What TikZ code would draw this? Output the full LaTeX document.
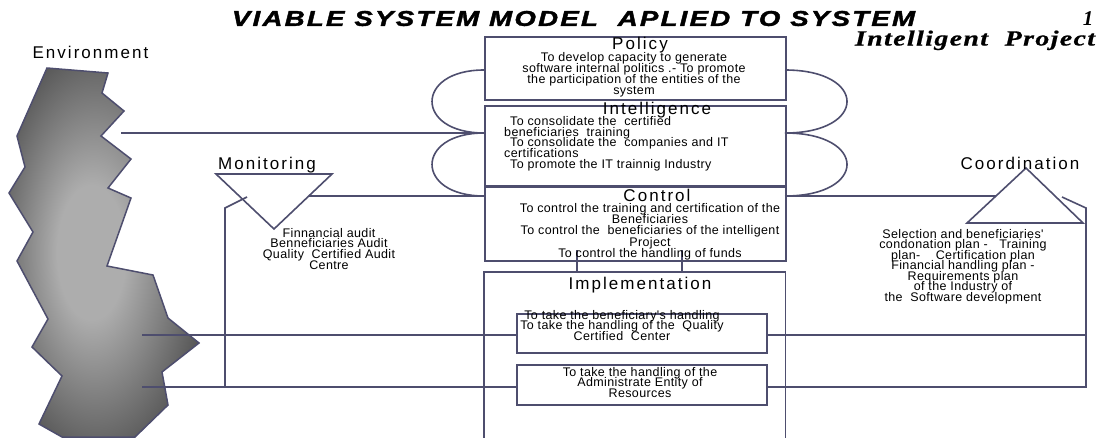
\documentclass[tikz,border=0pt]{standalone}
\usepackage{fontspec}
\setmainfont{Liberation Sans}
\newfontfamily\labelfont[LetterSpace=12]{Liberation Sans}
\newfontfamily\bodyfont[LetterSpace=3]{Liberation Sans}
\newfontfamily\headfont[LetterSpace=8, BoldItalicFeatures={FakeBold=1.6}]{Liberation Sans}
\newfontfamily\projfont[LetterSpace=5, BoldItalicFeatures={FakeBold=0.6}]{Liberation Serif}
\newfontfamily\serifbi{Liberation Serif}
\usetikzlibrary{calc}

\definecolor{vsmline}{RGB}{78,78,110}
\definecolor{envlight}{gray}{0.68}
\definecolor{envdark}{gray}{0.32}
\pgfdeclareradialshading{envshade}{\pgfpoint{-4bp}{0bp}}{%
  color(0bp)=(envlight); color(9bp)=(envlight); color(30bp)=(envdark); color(50bp)=(envdark)}

% tight text blocks: lines keep their baseline distance even when glyphs touch
\newcommand{\tightlines}{\lineskiplimit=-20pt\relax\lineskip=0pt\relax}

\tikzset{
  conn/.style={draw=vsmline, line width=1.6pt},
  frame/.style={draw=vsmline, line width=1.6pt, rectangle, inner sep=0pt, anchor=north west},
  bodytext/.style={inner sep=0pt, anchor=north, align=center,
    font=\bodyfont\fontsize{12.5pt}{#1}\selectfont\tightlines},
  bodytext/.default=11pt,
  tag/.style={inner sep=0pt, anchor=base, font=\labelfont\fontsize{17pt}{20pt}\selectfont},
}

\begin{document}
\begin{tikzpicture}[x=1pt, y=-1pt]
\useasboundingbox (0,0) rectangle (1098,437);

% environment
\shadedraw[shading=envshade, draw=vsmline, line width=1.5pt, line join=miter]
  (47,68) -- (108,73) -- (102,93) -- (124,111) -- (101,136) -- (131,159)
  -- (108,188) -- (131,198) -- (107,266) -- (153,275) -- (168,318) -- (199,343)
  -- (162,372) -- (168,405) -- (135,437) -- (62,437) -- (39,424) -- (62,376)
  -- (32,347) -- (48,319) -- (17,261) -- (33,232) -- (9,193) -- (25,167)
  -- (17,136) -- cycle;

% system boxes
\node[frame, minimum width=301pt, minimum height=63pt] (policy) at (484,36) {};
\node[frame, minimum width=301pt, minimum height=80pt] (intel) at (484,105) {};
\node[frame, minimum width=301pt, minimum height=74pt] (control) at (484,186) {};
\node[inner sep=0pt, anchor=north west, minimum width=301pt, minimum height=170pt] (impl) at (484,272) {};
\draw[conn] (impl.south west) -- (impl.north west) -- (impl.north east) -- (impl.south east);
\node[frame, minimum width=250pt, minimum height=39pt] (sub1) at (516,313) {};
\node[frame, minimum width=250pt, minimum height=40pt] (sub2) at (516,364) {};

% loops between policy, intelligence and control
\coordinate (lpTopL) at (484,70);
\coordinate (lpMidL) at (484,133);
\coordinate (lpLowL) at (484,196);
\coordinate (lpTopR) at (785,70);
\coordinate (lpMidR) at (785,133);
\coordinate (lpLowR) at (785,196);
\draw[conn] (lpTopL) .. controls (414.7,70) and (414.7,133) .. (lpMidL)
  .. controls (414.7,133) and (414.7,196) .. (lpLowL);
\draw[conn] (lpTopR) .. controls (867.7,70) and (867.7,133) .. (lpMidR)
  .. controls (867.7,133) and (867.7,196) .. (lpLowR);

% monitoring and coordination triangles
\coordinate (monL) at (216,174);
\coordinate (monR) at (332,174);
\coordinate (monB) at (274,229);
\draw[conn, line join=miter] (monL) -- (monR) -- (monB) -- cycle;
\coordinate (coT) at (1026,168);
\coordinate (coL) at (967,223);
\coordinate (coR) at (1083,223);
\draw[conn, line join=miter] (coT) -- (coR) -- (coL) -- cycle;

% connectors
\coordinate (envTop) at (121,133);
\coordinate (envMid) at (142,335);
\coordinate (envLow) at (142,387);
\draw[conn] (envTop) -- (envTop -| intel.west);
\draw[conn] (envMid) -- (envMid -| sub1.west);
\draw[conn] (envLow) -- (envLow -| sub2.west);

\coordinate (monJ) at ($(monR)!0.4!(monB)$);
\draw[conn] (monJ) -- (monJ -| control.west);
\coordinate (monTip) at (247,197);
\coordinate (monKnee) at (225,208);
\draw[conn] (monTip) -- (monKnee) -- (monKnee |- envLow);

\coordinate (coJ) at ($(coT)!0.509!(coL)$);
\draw[conn] (coJ -| control.east) -- (coJ);
\coordinate (coTip) at (1062,197);
\coordinate (coKnee) at (1086,208);
\draw[conn] (coTip) -- (coKnee) -- (coKnee |- envLow) -- (envLow -| sub2.east);
\draw[conn] (envMid -| sub1.east) -- (envMid -| coKnee);

\coordinate (linkA) at (577,250);
\coordinate (linkB) at (682,250);
\draw[conn] (linkA) -- (linkA |- impl.north);
\draw[conn] (linkB) -- (linkB |- impl.north);

% headings
\node[inner sep=0pt] (title) at (573.5,18.5)
  {\resizebox{683pt}{15pt}{\headfont\bfseries\itshape VIABLE SYSTEM MODEL~ APLIED TO SYSTEM}};
\node[inner sep=0pt, anchor=base] (pagenum) at (1088,25)
  {\serifbi\fontsize{21pt}{24pt}\selectfont\bfseries\itshape 1};
\node[inner sep=0pt, anchor=base] (project) at (975,45.5)
  {\resizebox{240pt}{15pt}{\projfont\bfseries\itshape Intelligent~ Project}};

% labels
\node[tag] (envlbl) at (90.5,58) {Environment};
\node[tag] (monlbl) at (267,169) {Monitoring};
\node[tag] (colbl) at (1020,169) {Coordination};
\node[tag] (pollbl) at (640,49) {Policy};
\node[tag] (intlbl) at (657,114.5) {Intelligence};
\node[tag] (ctllbl) at (657,201.5) {Control};
\node[tag] (implbl) at (640,289) {Implementation};

% box texts
\node[bodytext=11.1pt] (policytxt) at (634,52)
  {To develop capacity to generate\\ software internal politics .- To promote\\
   the participation of the entities of the\\ system};
\node[bodytext=10.8pt, anchor=north west, align=left] (inteltxt) at (504,116)
  {\hspace*{6pt}To consolidate the~ certified\\ beneficiaries~ training\\
   \hspace*{6pt}To consolidate the~ companies and IT\\ certifications\\
   \hspace*{6pt}To promote the IT trainnig Industry};
\node[bodytext=11.3pt] (controltxt) at (650,203)
  {To control the training and certification of the\\ Beneficiaries\\
   To control the~ beneficiaries of the intelligent\\ Project\\
   To control the handling of funds};
\node[bodytext=10.5pt] (sub1txt) at (622,310)
  {To take the beneficiary's handling\\ To take the handling of the~ Quality\\
   Certified~ Center};
\node[bodytext=10.6pt] (sub2txt) at (640,367)
  {To take the handling of the\\ Administrate Entity of\\ Resources};
\node[bodytext=10.7pt] (montxt) at (329,228)
  {Finnancial audit\\ Benneficiaries Audit\\ Quality~ Certified Audit\\ Centre};
\node[bodytext=10.5pt] (cotxt) at (963,229)
  {Selection and beneficiaries'\\ condonation plan -~~ Training\\
   plan-~~~ Certification plan\\ Financial handling plan -\\ Requirements plan\\
   of the Industry of\\ the~ Software development};
\end{tikzpicture}
\end{document}
